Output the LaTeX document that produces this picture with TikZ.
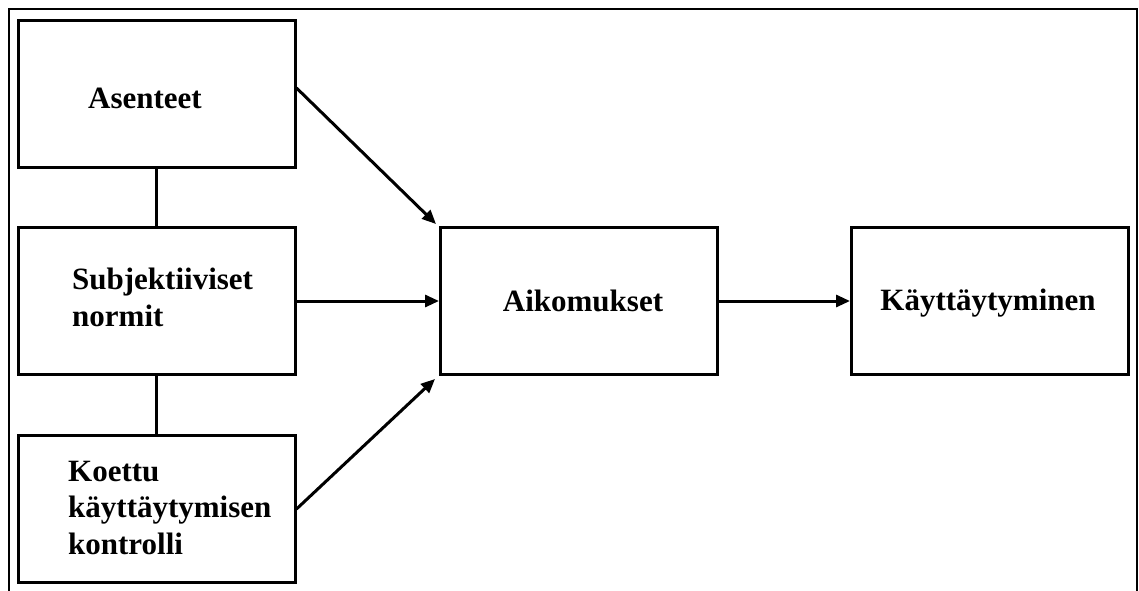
\documentclass[tikz,border=0pt]{standalone}
\usepackage{fontspec}
\setmainfont{Liberation Serif}
\usetikzlibrary{arrows.meta}
\tikzset{
  box/.style={draw, line width=3pt, minimum width=277pt, minimum height=147pt, inner sep=0pt},
  lbl/.style={anchor=base west, align=left, inner sep=0pt,
    font=\bfseries\fontsize{31}{36.5}\selectfont},
  clbl/.style={anchor=base, inner sep=0pt, font=\bfseries\fontsize{31}{36.5}\selectfont},
  link/.style={line width=3pt},
  flow/.style={line width=3pt, -{Triangle[length=14pt,width=12pt]}},
  frame/.style={line width=2pt}
}
\begin{document}
\begin{tikzpicture}[x=1pt, y=-1pt]
\useasboundingbox (0,0) rectangle (1139,590);
\clip (0,0) rectangle (1139,590);
% outer frame
\draw[frame] (9,600) -- (9,9) -- (1137,9) -- (1137,600);
% boxes
\node[box] (asen) at (156.5,94) {};
\node[box] (subj) at (156.5,301) {};
\node[box] (koe)  at (156.5,509) {};
\node[box] (aik)  at (579,301) {};
\node[box] (kay)  at (990,301) {};
% labels
\node[lbl] (tasen) at (88,108) {Asenteet};
\node[lbl] (tsubj) at (72,326) {Subjektiiviset\\normit};
\node[lbl] (tkoe)  at (68,554) {Koettu\\käyttäytymisen\\kontrolli};
\node[clbl] (taik) at (583,311) {Aikomukset};
\node[clbl] (tkay) at (988,310) {Käyttäytyminen};
% links between the determinants
\draw[link] (asen.south) -- (subj.north);
\draw[link] (subj.south) -- (koe.north);
% arrows into intention and behaviour
\draw[flow] ([yshift=6pt]asen.east) -- ([xshift=-3pt,yshift=2pt]aik.north west);
\draw[flow] (subj.east) -- (aik.west);
\draw[flow] (koe.east) -- ([xshift=-4pt,yshift=-3pt]aik.south west);
\draw[flow] (aik.east) -- (kay.west);
\end{tikzpicture}
\end{document}
